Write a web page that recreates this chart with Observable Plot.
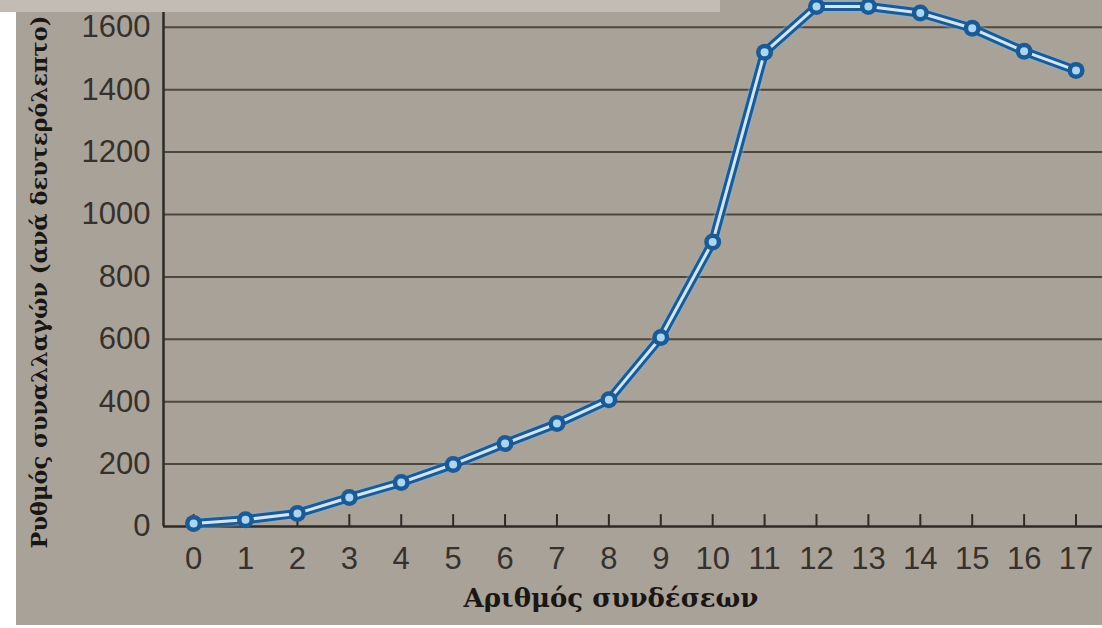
<!DOCTYPE html>
<html><head><meta charset="utf-8">
<script src="https://cdn.jsdelivr.net/npm/d3@7"></script>
<script src="https://cdn.jsdelivr.net/npm/@observablehq/plot@0.6"></script>
<style>
html,body{margin:0;padding:0;background:#fff;}
#wrap{position:relative;width:1102px;height:628px;overflow:hidden;background:#fff;}
#chart{position:absolute;left:16px;top:0;width:1086px;height:625px;background:#a9a299;}
#strip{position:absolute;left:0;top:0;width:720px;height:12px;background:#c3bcb4;}
</style></head><body>
<div id="wrap"><div id="chart"></div><div id="strip"></div></div>
<script>
const connections = [0,1,2,3,4,5,6,7,8,9,10,11,12,13,14,15,16,17];
const rates = [10,22,42,93,141,199,266,330,406,606,912,1520,1667,1667,1646,1597,1523,1462];
const yTicks = [0,200,400,600,800,1000,1200,1400,1600];
const xLabel = "Αριθμός συνδέσεων";
const yLabel = "Ρυθμός συναλλαγών (ανά δευτερόλεπτο)";

const data = connections.map((c, i) => ({c, r: rates[i]}));
const xMin = -0.58, xMax = 17.51;
const dark = "#1c5a96", light = "#cfe6f5";

const plot = Plot.plot({
  width: 1086, height: 625,
  marginLeft: 147, marginRight: 0, marginTop: 0, marginBottom: 99,
  style: {background: "transparent", fontFamily: "'Liberation Sans',sans-serif", fontSize: "31px", color: "#36312c", overflow: "visible"},
  x: {domain: [xMin, xMax]},
  y: {domain: [0, 1686]},
  marks: [
    Plot.ruleY(yTicks.filter(d => d > 0), {stroke: "#4d4741", strokeWidth: 2}),
    Plot.ruleY([0], {stroke: "#2e2a26", strokeWidth: 2.5}),
    Plot.ruleX([xMin], {y1: 0, y2: 1686, stroke: "#2e2a26", strokeWidth: 2.5}),
    Plot.ruleX(connections, {y1: 0, y2: 38, stroke: "#2e2a26", strokeWidth: 2}),
    Plot.axisY(yTicks, {tickSize: 0, tickPadding: 13, label: null, tickFormat: d3.format("d"), fill: "#36312c"}),
    Plot.axisX(connections, {tickSize: 0, tickPadding: 20, label: null, tickFormat: d3.format("d"), fill: "#36312c"}),
    Plot.line(data, {x: "c", y: "r", stroke: "#7fb4dc", strokeOpacity: 0.35, strokeWidth: 13, strokeLinejoin: "round"}),
    Plot.line(data, {x: "c", y: "r", stroke: dark, strokeWidth: 9, strokeLinejoin: "round"}),
    Plot.line(data, {x: "c", y: "r", stroke: light, strokeWidth: 3, strokeLinejoin: "round"}),
    Plot.dot(data, {x: "c", y: "r", r: 8.5, fill: dark}),
    Plot.dot(data, {x: "c", y: "r", r: 4, fill: "#a9d6f3"}),
    Plot.text([xLabel], {frameAnchor: "bottom", dx: -22, dy: 80, fontFamily: "DejaVu Serif", fontWeight: "bold", fontSize: 26, fill: "#1a1614"}),
    Plot.text([yLabel], {frameAnchor: "bottom-left", rotate: -90, textAnchor: "start", dx: -117, dy: 22, fontFamily: "DejaVu Serif", fontWeight: "bold", fontSize: 22.5, fill: "#1a1614"})
  ]
});
document.getElementById("chart").appendChild(plot);
</script>
</body></html>
